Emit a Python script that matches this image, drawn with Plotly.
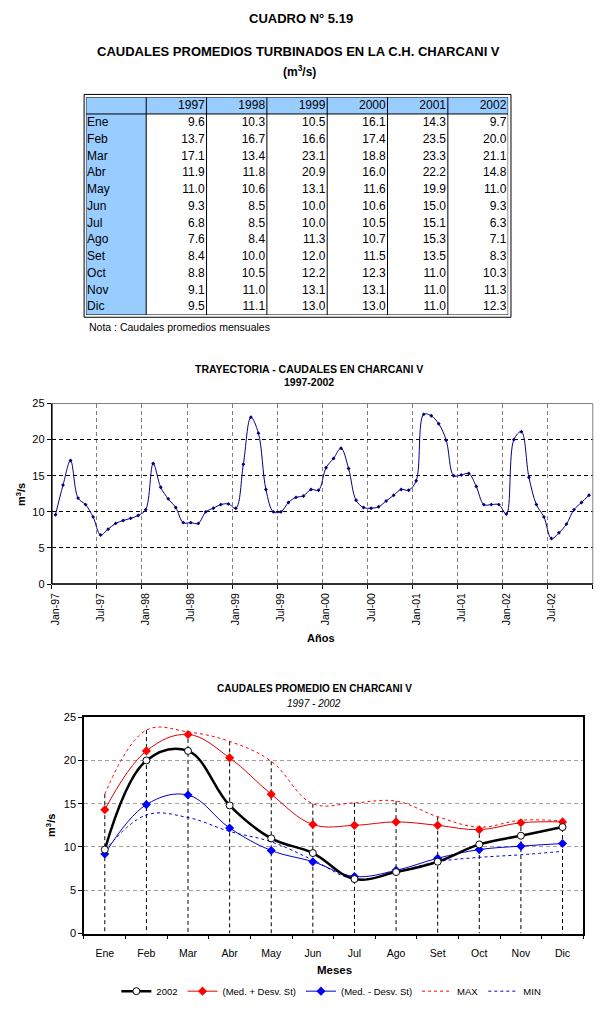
import plotly.graph_objects as go

W, H = 607, 1011


def px(x):
    return x / W


def py(y):
    return 1 - y / H


# ---------------- data ----------------
months = ["Ene", "Feb", "Mar", "Abr", "May", "Jun", "Jul", "Ago", "Set", "Oct", "Nov", "Dic"]
years = ["1997", "1998", "1999", "2000", "2001", "2002"]
q1997 = [9.6, 13.7, 17.1, 11.9, 11.0, 9.3, 6.8, 7.6, 8.4, 8.8, 9.1, 9.5]
q1998 = [10.3, 16.7, 13.4, 11.8, 10.6, 8.5, 8.5, 8.4, 10.0, 10.5, 11.0, 11.1]
q1999 = [10.5, 16.6, 23.1, 20.9, 13.1, 10.0, 10.0, 11.3, 12.0, 12.2, 13.1, 13.0]
q2000 = [16.1, 17.4, 18.8, 16.0, 11.6, 10.6, 10.5, 10.7, 11.5, 12.3, 13.1, 13.0]
q2001 = [14.3, 23.5, 23.3, 22.2, 19.9, 15.0, 15.1, 15.3, 13.5, 11.0, 11.0, 11.0]
q2002 = [9.7, 20.0, 21.1, 14.8, 11.0, 9.3, 6.3, 7.1, 8.3, 10.3, 11.3, 12.3]

traj_ticks = ["Jan-97", "Jul-97", "Jan-98", "Jul-98", "Jan-99", "Jul-99",
              "Jan-00", "Jul-00", "Jan-01", "Jul-01", "Jan-02", "Jul-02"]

med_plus = [14.3, 21.1, 23.0, 20.3, 16.1, 12.6, 12.5, 12.9, 12.5, 12.0, 12.8, 12.9]
med_minus = [9.2, 14.9, 16.0, 12.2, 9.6, 8.3, 6.6, 7.3, 8.7, 9.7, 10.1, 10.4]
max_vals = [16.1, 23.5, 23.3, 22.2, 19.9, 15.0, 15.1, 15.3, 13.5, 12.3, 13.1, 13.0]
min_vals = [9.6, 13.7, 13.4, 11.8, 10.6, 8.5, 6.3, 7.1, 8.3, 8.8, 9.1, 9.5]

# ---------------- styles ----------------
ARIAL = "Liberation Sans, Arial, sans-serif"
BLUE_BG = "#99CCFF"
DASH = "4px,3px"

fig = go.Figure()

# ---------------- table (own axes x3/y3) ----------------
table_cols = [q1997, q1998, q1999, q2000, q2001, q2002]
for ci, (yr, col) in enumerate(zip(years, table_cols)):
    fig.add_trace(go.Scatter(
        x=[ci + 1.97] * 13, y=[0.55] + [r + 1.55 for r in range(12)],
        text=[yr] + [f"{v:.1f}" for v in col],
        mode="text", textposition="middle left",
        textfont=dict(family=ARIAL, size=12, color="black"),
        xaxis="x3", yaxis="y3", showlegend=False, hoverinfo="skip"))
fig.add_trace(go.Scatter(
    x=[0.02] * 12, y=[r + 1.55 for r in range(12)], text=months,
    mode="text", textposition="middle right",
    textfont=dict(family=ARIAL, size=12, color="black"),
    xaxis="x3", yaxis="y3", showlegend=False, hoverinfo="skip"))

shapes = []
# backgrounds
shapes.append(dict(type="rect", xref="x3", yref="y3", x0=0, x1=7, y0=0, y1=1,
                   fillcolor=BLUE_BG, line=dict(width=0), layer="below"))
shapes.append(dict(type="rect", xref="x3", yref="y3", x0=0, x1=1, y0=0, y1=13,
                   fillcolor=BLUE_BG, line=dict(width=0), layer="below"))
# grid lines of the table
for c in range(1, 7):
    shapes.append(dict(type="line", xref="x3", yref="y3", x0=c, x1=c, y0=0, y1=13,
                       line=dict(color="black", width=1)))
shapes.append(dict(type="line", xref="x3", yref="y3", x0=0, x1=7, y0=1, y1=1,
                   line=dict(color="black", width=1)))
shapes.append(dict(type="rect", xref="x3", yref="y3", x0=0, x1=7, y0=0, y1=13,
                   line=dict(color="black", width=1)))
# outer frame (double border)
shapes.append(dict(type="rect", xref="paper", yref="paper",
                   x0=px(81.5), x1=px(510.5), y0=py(315), y1=py(89.5),
                   line=dict(color="black", width=1)))

# ---------------- chart 2 : trajectory ----------------
traj = q1997 + q1998 + q1999 + q2000 + q2001 + q2002
fig.add_trace(go.Scatter(
    x=list(range(len(traj))), y=traj, mode="lines+markers",
    line=dict(color="#000080", width=1, shape="spline", smoothing=1.0),
    marker=dict(symbol="diamond", size=3, color="#000080"),
    xaxis="x", yaxis="y", showlegend=False, hoverinfo="skip"))
shapes.append(dict(type="rect", xref="x domain", yref="y domain", x0=0, x1=1, y0=0, y1=1,
                   line=dict(color="#808080", width=1), layer="above"))
shapes.append(dict(type="line", xref="x domain", yref="y domain", x0=0, x1=0, y0=0, y1=1,
                   line=dict(color="black", width=1.5), layer="above"))
shapes.append(dict(type="line", xref="x domain", yref="y domain", x0=0, x1=1, y0=0, y1=0,
                   line=dict(color="black", width=1.5), layer="above"))

# ---------------- chart 3 : monthly ----------------
drop_x, drop_y = [], []
for i, m in enumerate(max_vals):
    drop_x += [i, i, None]
    drop_y += [m, 0, None]
fig.add_trace(go.Scatter(
    x=drop_x, y=drop_y, mode="lines", line=dict(color="black", width=1, dash=DASH),
    xaxis="x2", yaxis="y2", showlegend=False, hoverinfo="skip"))
fig.add_trace(go.Scatter(
    x=list(range(12)), y=max_vals, mode="lines", name="MAX",
    line=dict(color="#FF0000", width=1, dash="3px,3px", shape="spline", smoothing=1.1),
    xaxis="x2", yaxis="y2", legendrank=4))
fig.add_trace(go.Scatter(
    x=list(range(12)), y=min_vals, mode="lines", name="MIN",
    line=dict(color="#0000CC", width=1, dash="3px,3px", shape="spline", smoothing=1.1),
    xaxis="x2", yaxis="y2", legendrank=5))
fig.add_trace(go.Scatter(
    x=list(range(12)), y=med_plus, mode="lines+markers", name="(Med. + Desv. St)",
    line=dict(color="#E00000", width=1, shape="spline", smoothing=1.1),
    marker=dict(symbol="diamond", size=7, color="#FF0000"),
    xaxis="x2", yaxis="y2", legendrank=2))
fig.add_trace(go.Scatter(
    x=list(range(12)), y=med_minus, mode="lines+markers", name="(Med. - Desv. St)",
    line=dict(color="#0000CC", width=1, shape="spline", smoothing=1.1),
    marker=dict(symbol="diamond", size=7, color="#0000FF"),
    xaxis="x2", yaxis="y2", legendrank=3))
fig.add_trace(go.Scatter(
    x=list(range(12)), y=q2002, mode="lines+markers", name="2002",
    line=dict(color="black", width=2.5, shape="spline", smoothing=1.1),
    marker=dict(symbol="circle", size=7, color="white", line=dict(color="black", width=1)),
    xaxis="x2", yaxis="y2", legendrank=1))

# ---------------- annotations ----------------
ann = []


def add_text(x, y, text, size, angle=0, xanchor="center"):
    ann.append(dict(x=px(x), y=py(y), xref="paper", yref="paper", text=text, showarrow=False,
                    font=dict(family=ARIAL, size=size, color="black"), textangle=angle,
                    xanchor=xanchor, yanchor="middle"))


add_text(299, 13, "<b>CUADRO N° 5.19</b>", 13)
add_text(297, 46, "<b>CAUDALES PROMEDIOS TURBINADOS EN LA C.H. CHARCANI V</b>", 13)
add_text(298, 66, "<b>(m<sup>3</sup>/s)</b>", 12)
add_text(84, 325, "Nota : Caudales promedios mensuales", 10.5, xanchor="left")
add_text(308, 367, "<b>TRAYECTORIA - CAUDALES EN CHARCANI V</b>", 10.5)
add_text(308, 381, "<b>1997-2002</b>", 10.5)
add_text(18, 494, "<b>m<sup>3</sup>/s</b>", 11, angle=-90)
add_text(320, 640, "<b>Años</b>", 11)
add_text(313, 691, "<b>CAUDALES PROMEDIO EN CHARCANI V</b>", 10)
add_text(313, 706, "<i>1997 - 2002</i>", 10)
add_text(48, 829, "<b>m<sup>3</sup>/s</b>", 11, angle=-90)
add_text(333, 976, "<b>Meses</b>", 11.5)

fig.update_layout(
    width=W, height=H, margin=dict(l=0, r=0, t=0, b=0),
    paper_bgcolor="white", plot_bgcolor="white",
    shapes=shapes, annotations=ann,
    font=dict(family=ARIAL, color="black"),
    xaxis=dict(domain=[px(49), px(592.7)], anchor="y", range=[-0.5, 71.5],
               tickmode="array", tickvals=list(range(0, 72, 6)), ticktext=traj_ticks,
               tickangle=-90, ticks="", showgrid=False, zeroline=False, showline=False,
               ticklabelstandoff=6,
               tickfont=dict(family=ARIAL, size=10.5),
               minor=dict(tick0=-0.5, dtick=6, showgrid=True, gridcolor="#808080",
                          griddash=DASH, gridwidth=1, ticks="outside", ticklen=4,
                          tickcolor="black")),
    yaxis=dict(domain=[py(585), py(402.3)], anchor="x", range=[0, 25], dtick=5,
               ticks="outside", ticklen=4, tickcolor="black", showline=False,
               showgrid=True, gridcolor="black", griddash=DASH, gridwidth=1,
               zeroline=False, tickfont=dict(family=ARIAL, size=11)),
    xaxis2=dict(domain=[px(81.4), px(583.2)], anchor="y2", range=[-0.5, 11.5],
                tickmode="array", tickvals=list(range(12)), ticktext=months,
                ticks="", showgrid=False, zeroline=False, showline=True, mirror=True,
                linecolor="black", linewidth=1.5, ticklabelstandoff=9,
                tickfont=dict(family=ARIAL, size=10.5),
                minor=dict(tick0=-0.5, dtick=1, showgrid=False, ticks="outside",
                           ticklen=4, tickcolor="black")),
    yaxis2=dict(domain=[py(938.7), py(719.7)], anchor="x2", range=[0, 25], dtick=5,
                ticks="outside", ticklen=4, tickcolor="black", showline=True, mirror=True,
                linecolor="black", linewidth=1.5,
                showgrid=True, gridcolor="#A0A0A0", griddash=DASH, gridwidth=1,
                zeroline=False, tickfont=dict(family=ARIAL, size=11)),
    xaxis3=dict(domain=[px(83.3), px(507.7)], anchor="y3", range=[0, 7], visible=False,
                fixedrange=True),
    yaxis3=dict(domain=[py(312.7), py(92.3)], anchor="x3", range=[13, 0], visible=False,
                fixedrange=True),
    legend=dict(orientation="h", x=px(330), xanchor="center", y=py(997), yanchor="middle",
                font=dict(family=ARIAL, size=9.5), bgcolor="rgba(0,0,0,0)",
                traceorder="normal", itemwidth=30),
)

fig.write_html(
    "out.html", config={"displayModeBar": False},
    post_script=("document.documentElement.style.margin='0';"
                 "document.documentElement.style.padding='0';"
                 "document.documentElement.style.overflow='hidden';"
                 "document.body.style.margin='0';"
                 "document.body.style.padding='0';"
                 "document.body.style.overflow='hidden';"))
